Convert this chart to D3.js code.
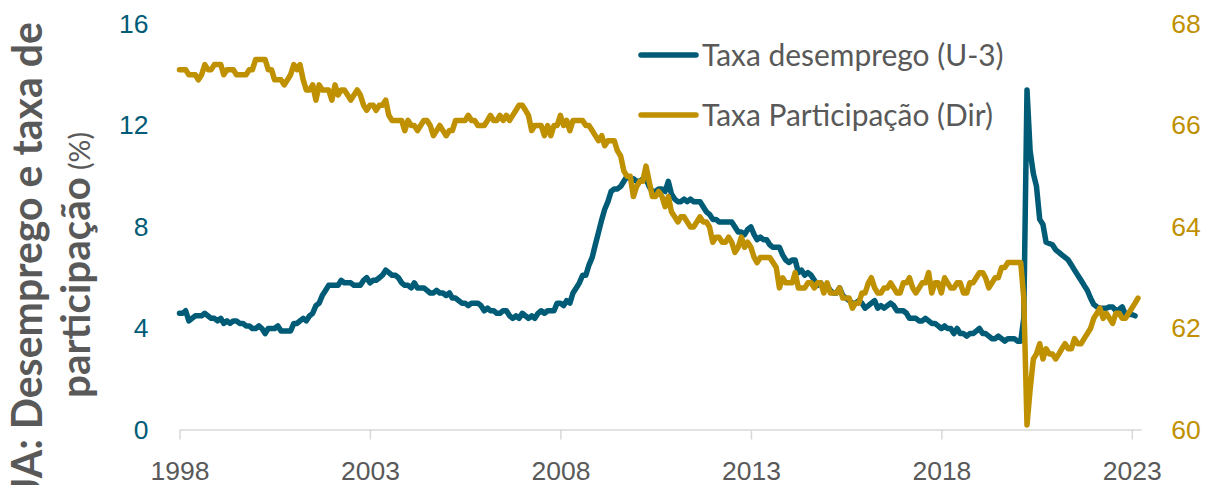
<!DOCTYPE html>
<html>
<head>
<meta charset="utf-8">
<script src="https://cdn.jsdelivr.net/npm/d3@7"></script>
<style>
  body { margin: 0; background: #fff; }
  svg { display: block; font-family: Lato, "Open Sans", sans-serif; }
  .axis .domain { stroke: #d9d9d9; stroke-width: 1.5; }
  .axis line { stroke: #d9d9d9; stroke-width: 1.5; }
</style>
</head>
<body>
<div class="container"></div>
<script>
// monthly series, starting Jan 1998
const startYear = 1998;

// Taxa desemprego (U-3), % - left axis
const unemployment = [
  4.6, 4.6, 4.7, 4.3, 4.4, 4.5, 4.5, 4.5, 4.6, 4.5, 4.4, 4.4,   // 1998
  4.3, 4.4, 4.2, 4.3, 4.2, 4.3, 4.3, 4.2, 4.2, 4.1, 4.1, 4.0,   // 1999
  4.0, 4.1, 4.0, 3.8, 4.0, 4.0, 4.0, 4.1, 3.9, 3.9, 3.9, 3.9,   // 2000
  4.2, 4.2, 4.3, 4.4, 4.3, 4.5, 4.6, 4.9, 5.0, 5.3, 5.5, 5.7,   // 2001
  5.7, 5.7, 5.7, 5.9, 5.8, 5.8, 5.8, 5.7, 5.7, 5.7, 5.9, 6.0,   // 2002
  5.8, 5.9, 5.9, 6.0, 6.1, 6.3, 6.2, 6.1, 6.1, 6.0, 5.8, 5.7,   // 2003
  5.7, 5.6, 5.8, 5.6, 5.6, 5.6, 5.5, 5.4, 5.4, 5.5, 5.4, 5.4,   // 2004
  5.3, 5.4, 5.2, 5.2, 5.1, 5.0, 5.0, 4.9, 5.0, 5.0, 5.0, 4.9,   // 2005
  4.7, 4.8, 4.7, 4.7, 4.6, 4.6, 4.7, 4.7, 4.5, 4.4, 4.5, 4.4,   // 2006
  4.6, 4.5, 4.4, 4.5, 4.4, 4.6, 4.7, 4.6, 4.7, 4.7, 4.7, 5.0,   // 2007
  5.0, 4.9, 5.1, 5.0, 5.4, 5.6, 5.8, 6.1, 6.1, 6.5, 6.8, 7.3,   // 2008
  7.8, 8.3, 8.7, 9.0, 9.4, 9.5, 9.5, 9.6, 9.8, 10.0, 9.9, 9.9,  // 2009
  9.8, 9.8, 9.9, 9.9, 9.6, 9.4, 9.4, 9.5, 9.5, 9.4, 9.8, 9.3,   // 2010
  9.1, 9.0, 9.0, 9.1, 9.0, 9.1, 9.0, 9.0, 9.0, 8.8, 8.6, 8.5,   // 2011
  8.3, 8.3, 8.2, 8.2, 8.2, 8.2, 8.2, 8.0, 7.8, 7.8, 7.7, 7.9,   // 2012
  8.0, 7.7, 7.5, 7.6, 7.5, 7.5, 7.3, 7.2, 7.2, 7.2, 6.9, 6.7,   // 2013
  6.6, 6.7, 6.7, 6.2, 6.3, 6.1, 6.2, 6.1, 5.9, 5.7, 5.8, 5.6,   // 2014
  5.7, 5.5, 5.4, 5.4, 5.6, 5.3, 5.2, 5.1, 5.0, 5.0, 5.1, 5.0,   // 2015
  4.8, 4.9, 5.0, 5.1, 4.8, 4.9, 4.8, 4.9, 5.0, 4.9, 4.7, 4.7,   // 2016
  4.7, 4.6, 4.4, 4.4, 4.4, 4.3, 4.3, 4.4, 4.3, 4.2, 4.2, 4.1,   // 2017
  4.0, 4.1, 4.0, 4.0, 3.8, 4.0, 3.8, 3.8, 3.7, 3.8, 3.8, 3.9,   // 2018
  4.0, 3.8, 3.8, 3.7, 3.6, 3.6, 3.7, 3.6, 3.5, 3.6, 3.6, 3.6,   // 2019
  3.5, 3.5, 4.4, 13.4, 11.0, 10.1, 9.6, 8.3, 8.1, 7.4, 7.35, 7.3, // 2020
  7.1, 7.0, 6.9, 6.8, 6.7, 6.5, 6.3, 6.1, 5.9, 5.7, 5.5, 5.2,   // 2021
  4.95, 4.85, 4.8, 4.8, 4.8, 4.85, 4.85, 4.7, 4.75, 4.85, 4.55, 4.55, // 2022
  4.55, 4.5                                                     // 2023
];

// Taxa Participação, % - right axis
const participation = [
  67.1, 67.1, 67.1, 67.0, 67.0, 67.0, 66.9, 67.0, 67.2, 67.1, 67.1, 67.2, // 1998
  67.2, 67.2, 67.0, 67.1, 67.1, 67.1, 67.0, 67.0, 67.0, 67.0, 67.1, 67.1, // 1999
  67.3, 67.3, 67.3, 67.3, 67.1, 67.1, 66.9, 66.9, 66.9, 66.8, 66.9, 67.0, // 2000
  67.2, 67.1, 67.2, 66.9, 66.7, 66.7, 66.8, 66.5, 66.8, 66.7, 66.7, 66.7, // 2001
  66.5, 66.8, 66.6, 66.7, 66.7, 66.6, 66.5, 66.6, 66.7, 66.6, 66.4, 66.3, // 2002
  66.4, 66.4, 66.3, 66.4, 66.4, 66.5, 66.2, 66.1, 66.1, 66.1, 66.1, 65.9, // 2003
  66.1, 66.0, 66.0, 65.9, 66.0, 66.1, 66.1, 66.0, 65.8, 65.9, 66.0, 65.9, // 2004
  65.8, 65.9, 65.9, 66.1, 66.1, 66.1, 66.1, 66.2, 66.1, 66.1, 66.0, 66.0, // 2005
  66.0, 66.1, 66.2, 66.1, 66.1, 66.2, 66.1, 66.2, 66.1, 66.2, 66.3, 66.4, // 2006
  66.4, 66.3, 66.2, 65.9, 66.0, 66.0, 66.0, 65.8, 66.0, 65.8, 66.0, 66.0, // 2007
  66.2, 66.0, 66.1, 65.9, 66.1, 66.1, 66.1, 66.1, 66.0, 66.0, 65.9, 65.8, // 2008
  65.7, 65.8, 65.6, 65.7, 65.7, 65.7, 65.5, 65.4, 65.1, 65.0, 65.0, 64.6, // 2009
  64.8, 64.9, 64.9, 65.2, 64.9, 64.6, 64.6, 64.7, 64.6, 64.4, 64.6, 64.3, // 2010
  64.2, 64.1, 64.2, 64.2, 64.1, 64.0, 64.0, 64.1, 64.2, 64.1, 64.1, 64.0, // 2011
  63.7, 63.8, 63.8, 63.7, 63.7, 63.8, 63.7, 63.5, 63.6, 63.8, 63.6, 63.7, // 2012
  63.6, 63.4, 63.3, 63.4, 63.4, 63.4, 63.4, 63.3, 63.2, 62.8, 63.0, 62.9, // 2013
  62.9, 62.9, 63.1, 62.8, 62.8, 62.8, 62.9, 62.9, 62.8, 62.9, 62.9, 62.7, // 2014
  62.9, 62.7, 62.7, 62.7, 62.8, 62.6, 62.6, 62.6, 62.4, 62.5, 62.5, 62.7, // 2015
  62.7, 62.9, 63.0, 62.8, 62.7, 62.7, 62.8, 62.8, 62.9, 62.8, 62.7, 62.7, // 2016
  62.9, 62.9, 63.0, 62.8, 62.7, 62.8, 62.9, 62.9, 63.1, 62.7, 62.9, 62.9, // 2017
  62.7, 63.0, 62.9, 62.8, 62.8, 62.9, 62.9, 62.7, 62.7, 62.9, 62.9, 63.0, // 2018
  63.1, 63.1, 63.0, 62.8, 62.9, 63.0, 63.0, 63.2, 63.2, 63.3, 63.3, 63.3, // 2019
  63.3, 63.3, 62.6, 60.1, 60.8, 61.4, 61.5, 61.7, 61.4, 61.6, 61.5, 61.5, // 2020
  61.4, 61.5, 61.6, 61.7, 61.6, 61.6, 61.8, 61.7, 61.7, 61.8, 61.9, 62.0, // 2021
  62.2, 62.3, 62.4, 62.2, 62.3, 62.2, 62.1, 62.3, 62.3, 62.2, 62.2, 62.3, // 2022
  62.4, 62.5, 62.6                                                        // 2023
];

const seriesNames = ['Taxa desemprego (U-3)', 'Taxa Participação (Dir)'];
const xTickYears = [1998, 2003, 2008, 2013, 2018, 2023];
const leftTicks = [0, 4, 8, 12, 16];
const rightTicks = [60, 62, 64, 66, 68];

const teal = '#005b76', gold = '#bf9000', grey = '#595959';

const width = 1208, height = 485;
const toSeries = arr => arr.map((v, i) => ({date: new Date(startYear, i, 1), value: v}));
const uData = toSeries(unemployment);
const pData = toSeries(participation);

const svg = d3.select('.container').append('svg')
  .attr('width', width).attr('height', height);
svg.append('rect').attr('width', width).attr('height', height).attr('fill', '#fff');

// scales
const x = d3.scaleTime()
  .domain([new Date(1998, 0, 1), new Date(2023, 3, 1)])
  .range([179.5, 1141.2]);
const yL = d3.scaleLinear().domain([0, 16]).range([430, 24]);
const yR = d3.scaleLinear().domain([60, 68]).range([430, 24]);

const tickFont = 26.5;

// x axis
const xAxis = svg.append('g')
  .attr('class', 'axis')
  .attr('transform', 'translate(0,429.5)')
  .call(d3.axisBottom(x)
    .tickValues(xTickYears.map(y => new Date(y, 0, 1)))
    .tickFormat(d3.timeFormat('%Y'))
    .tickSize(10).tickSizeOuter(0).tickPadding(22));
xAxis.selectAll('text').attr('fill', grey).style('font-size', tickFont + 'px');

// left axis
const lAxis = svg.append('g')
  .attr('transform', 'translate(179.5,0)')
  .call(d3.axisLeft(yL).tickValues(leftTicks).tickSize(0).tickPadding(31));
lAxis.select('.domain').remove();
lAxis.selectAll('text').attr('fill', teal).style('font-size', tickFont + 'px');

// right axis
const rAxis = svg.append('g')
  .attr('transform', 'translate(1141.2,0)')
  .call(d3.axisRight(yR).tickValues(rightTicks).tickSize(0).tickPadding(30));
rAxis.select('.domain').remove();
rAxis.selectAll('text').attr('fill', gold).style('font-size', tickFont + 'px');

// lines
const lineL = d3.line().x(d => x(d.date)).y(d => yL(d.value));
const lineR = d3.line().x(d => x(d.date)).y(d => yR(d.value));

svg.append('path').datum(uData)
  .attr('d', lineL).attr('fill', 'none').attr('stroke', teal)
  .attr('stroke-width', 5.5).attr('stroke-linejoin', 'round').attr('stroke-linecap', 'round');
svg.append('path').datum(pData)
  .attr('d', lineR).attr('fill', 'none').attr('stroke', gold)
  .attr('stroke-width', 5.5).attr('stroke-linejoin', 'round').attr('stroke-linecap', 'round');

// scale text so it spans a given width
function fit(t, w) {
  const len = t.node().getComputedTextLength();
  const fs = parseFloat(t.style('font-size'));
  t.style('font-size', (fs * w / len) + 'px');
  return fs * w / len;
}

// legend
const legendY = [55, 115];
const legend = svg.append('g');
seriesNames.forEach((name, i) => {
  legend.append('line')
    .attr('x1', 641).attr('x2', 696)
    .attr('y1', legendY[i]).attr('y2', legendY[i])
    .attr('stroke', i === 0 ? teal : gold)
    .attr('stroke-width', 5.5).attr('stroke-linecap', 'round');
});
const legText2 = legend.append('text')
  .attr('x', 702).attr('fill', grey).style('font-size', '27px')
  .text(seriesNames[1]);
const legFs = fit(legText2, 291);
legText2.attr('y', legendY[1] + legFs * 0.36);
legend.append('text')
  .attr('x', 702).attr('y', legendY[0] + legFs * 0.36)
  .attr('fill', grey).style('font-size', legFs + 'px')
  .text(seriesNames[0]);

// y title (rotated)
const title = svg.append('g').attr('transform', 'rotate(-90)');
const t1 = title.append('text')
  .attr('x', -265).attr('y', 42)
  .attr('text-anchor', 'middle')
  .attr('fill', grey).style('font-weight', 'bold').style('font-size', '38px')
  .text('UA: Desemprego e taxa de');
fit(t1, 486);
const t2 = title.append('text')
  .attr('x', -398).attr('y', 90)
  .attr('fill', grey).style('font-weight', 'bold').style('font-size', '38px')
  .text('participação');
fit(t2, 221);
const t3 = title.append('text')
  .attr('x', -132).attr('y', 90)
  .attr('text-anchor', 'end')
  .attr('fill', grey).style('font-size', '26px')
  .text('(%)');
fit(t3, 38);
</script>
</body>
</html>
